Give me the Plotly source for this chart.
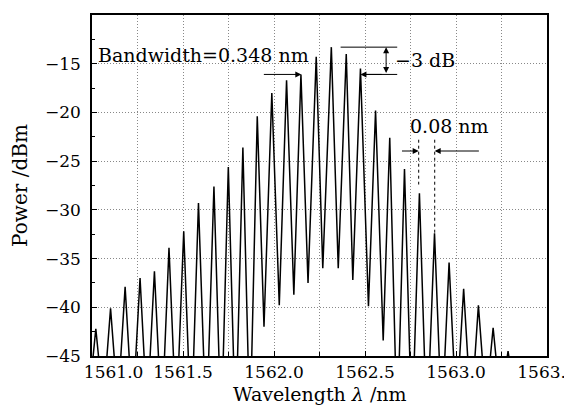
import plotly.graph_objects as go

# comb spectrum: peaks and the dips between them
peak_wl = [1561.021, 1561.102, 1561.182, 1561.264, 1561.343, 1561.423, 1561.504,
           1561.585, 1561.670, 1561.749, 1561.829, 1561.908, 1561.988, 1562.069,
           1562.148, 1562.232, 1562.315, 1562.397, 1562.475, 1562.558, 1562.636,
           1562.717, 1562.799, 1562.882, 1562.962, 1563.042, 1563.123, 1563.204,
           1563.286]
peak_dbm = [-42.2, -40.1, -37.9, -37.0, -36.3, -33.9, -32.2,
            -29.3, -27.6, -25.6, -23.6, -20.4, -18.0, -16.7,
            -16.1, -14.3, -13.3, -14.0, -15.5, -19.8, -22.6,
            -25.8, -28.3, -32.4, -35.4, -38.1, -39.8, -42.1,
            -44.5]
dip_wl = [1560.98, 1561.062, 1561.142, 1561.223, 1561.303, 1561.383, 1561.463,
          1561.545, 1561.628, 1561.710, 1561.789, 1561.868, 1561.945, 1562.029,
          1562.109, 1562.187, 1562.268, 1562.353, 1562.433, 1562.519, 1562.600,
          1562.677, 1562.758, 1562.840, 1562.922, 1563.002, 1563.083, 1563.164,
          1563.245, 1563.33]
dip_dbm = [-50, -50, -50, -51, -51, -52, -52,
           -53, -53, -53, -53, -53, -42.0, -39.8,
           -38.7, -37.5, -36.0, -36.0, -37.2, -39.9, -43.4,
           -53, -53, -53, -52, -51, -51, -50,
           -50, -50]

x_ticks = [1561.0, 1561.5, 1562.0, 1562.5, 1563.0, 1563.5]
x_labels = ["\u00a0" * 8 + "1561.0", "1561.5", "1562.0", "1562.5", "1563.0", "1563.5"]

pts = sorted(zip(peak_wl + dip_wl, peak_dbm + dip_dbm))
wl = [p[0] for p in pts]
pw = [p[1] for p in pts]

FONT = "DejaVu Serif"

fig = go.Figure()
fig.add_trace(go.Scatter(x=wl, y=pw, mode="lines",
                         line=dict(color="black", width=1.5), showlegend=False))

# marker lines for the 0.08 nm spacing
fig.add_trace(go.Scatter(x=[1562.795, 1562.795, None, 1562.883, 1562.883],
                         y=[-22.8, -27.4, None, -22.8, -32.4], mode="lines",
                         line=dict(color="black", width=1, dash="dot"), showlegend=False))
# -3 dB reference lines
fig.add_trace(go.Scatter(x=[1562.366, 1562.677, None, 1562.49, 1562.677],
                         y=[-13.3, -13.3, None, -16.1, -16.1], mode="lines",
                         line=dict(color="black", width=1), showlegend=False))

anns = [
    dict(x=1561.614, y=-14.1, text="Bandwidth=0.348 nm", showarrow=False, font_size=19),
    dict(x=1562.832, y=-14.6, text="\u22123 dB", showarrow=False, font_size=19),
    dict(x=1562.964, y=-21.4, text="0.08 nm", showarrow=False, font_size=19),
    # x axis title, placed by hand so it sits like the original
    dict(x=0.5, y=-0.11, xref="paper", yref="paper", yanchor="middle",
         text="Wavelength <i>λ</i> /nm", showarrow=False, font_size=19),
]
arrows = [
    (1562.150, -16.1, 1561.936, -16.1, "end"),
    (1562.475, -16.1, 1562.60, -16.1, "end"),
    (1562.616, -13.3, 1562.616, -16.1, "end+start"),
    (1562.795, -23.96, 1562.695, -23.96, "end"),
    (1562.883, -23.96, 1563.134, -23.96, "end"),
]
for x, y, ax, ay, side in arrows:
    anns.append(dict(x=x, y=y, ax=ax, ay=ay, xref="x", yref="y", axref="x", ayref="y",
                     text="", showarrow=True, arrowhead=2, arrowsize=1.2, arrowwidth=1,
                     arrowside=side, arrowcolor="black"))

grid = dict(showgrid=True, gridcolor="#888", griddash="1px,2px", gridwidth=1)

# page body adds ~8px offset, so margins are trimmed to land the frame where the original is
fig.update_layout(
    width=572, height=405,
    margin=dict(l=84, r=33, t=7, b=57),
    paper_bgcolor="white", plot_bgcolor="white",
    font=dict(family=FONT, size=17, color="black"),
    annotations=anns,
    xaxis=dict(range=[1561.0, 1563.5], tickmode="array", tickvals=x_ticks, ticktext=x_labels,
               ticks="inside", ticklen=5, tickcolor="black", automargin=False,
               minor=dict(dtick=0.25, ticks="inside", ticklen=4, tickcolor="black",
                          showgrid=True, gridcolor="#888", griddash="1px,2px"),
               showline=True, linecolor="black", linewidth=1.5, mirror=True,
               zeroline=False, **grid),
    yaxis=dict(range=[-45, -10], dtick=5, ticks="inside", ticklen=5, tickcolor="black",
               ticklabelstandoff=6, automargin=False,
               minor=dict(dtick=2.5, ticks="inside", ticklen=3, tickcolor="black"),
               showline=True, linecolor="black", linewidth=1.5, mirror=True,
               title=dict(text="Power /dBm", font=dict(size=20), standoff=16),
               zeroline=False, **grid),
)

fig.write_html("out.html")
